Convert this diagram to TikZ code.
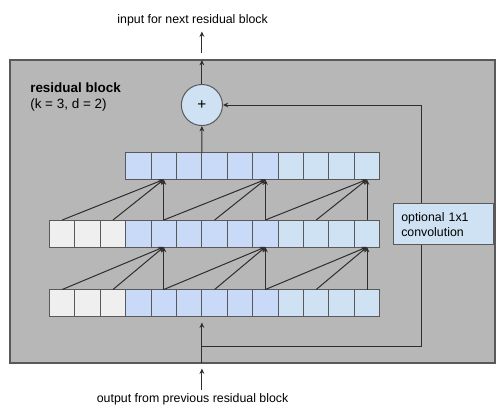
\documentclass[tikz,border=0pt]{standalone}
\usepackage{fontspec}
\setmainfont{Liberation Sans}
\usetikzlibrary{arrows.meta}
\definecolor{bggray}{HTML}{B7B7B7}
\definecolor{edgegray}{HTML}{595959}
\definecolor{cellgray}{HTML}{EFEFEF}
\definecolor{cellblue}{HTML}{C9DAF8}
\definecolor{celllight}{HTML}{CFE2F3}
\definecolor{linecol}{HTML}{2E2E2E}
\begin{document}
\begin{tikzpicture}[x=0.75pt,y=-0.75pt,
  cellbox/.style={draw=edgegray, line width=0.75pt, minimum width=19.05pt, minimum height=20.25pt, inner sep=0pt, outer sep=0pt},
  conn/.style={draw=linecol, line width=0.75pt, -{Stealth[length=4pt,width=3.6pt]}},
  lbl/.style={font=\fontsize{9.26pt}{11.25pt}\selectfont, inner sep=0pt},
  ttl/.style={font=\fontsize{10.1pt}{12pt}\selectfont, inner sep=0pt},
]
\useasboundingbox (0,0) rectangle (496,405);
% outer block
\node[draw=edgegray, fill=bggray, line width=0.9pt, minimum width=363.75pt, minimum height=227.25pt,
      inner sep=0pt, outer sep=0pt, anchor=north west] (blk) at (10,60) {};
% labels
\node[ttl, anchor=base west] (ttlA) at (30,92) {\bfseries residual block};
\node[ttl, anchor=base west] (ttlB) at (30,108) {(k = 3, d = 2)};
% rows of cells
\foreach \i/\c in {1/cellgray,2/cellgray,3/cellgray,4/cellblue,5/cellblue,6/cellblue,7/cellblue,8/cellblue,9/cellblue,10/celllight,11/celllight,12/celllight,13/celllight}{
  \node[cellbox, fill=\c] (b\i) at ({49.5+(\i-0.5)*25.4},303) {};
  \node[cellbox, fill=\c] (m\i) at ({49.5+(\i-0.5)*25.4},233.5) {};
}
\foreach \i/\c in {4/cellblue,5/cellblue,6/cellblue,7/cellblue,8/cellblue,9/cellblue,10/celllight,11/celllight,12/celllight,13/celllight}{
  \node[cellbox, fill=\c] (t\i) at ({49.5+(\i-0.5)*25.4},166) {};
}
% dilated connections
\foreach \r in {5,9,13}{
  \pgfmathtruncatemacro\sa{\r-4}
  \pgfmathtruncatemacro\sb{\r-2}
  \draw[conn] (b\sa.north) -- (m\r.south);
  \draw[conn] (b\sb.north) -- (m\r.south);
  \draw[conn] (b\r.north) -- (m\r.south);
  \draw[conn] (m\sa.north) -- (t\r.south);
  \draw[conn] (m\sb.north) -- (t\r.south);
  \draw[conn] (m\r.north) -- (t\r.south);
}
% sum node
\node[circle, draw=edgegray, fill=celllight, line width=0.75pt, minimum size=30.8pt, inner sep=0pt,
      font=\fontsize{11.5pt}{12pt}\selectfont] (plus) at (201.9,105) {+};
\draw[conn] (t6.north east) -- (plus.south);
\draw[conn] (plus.north) -- (plus.north |- blk.north);
% residual skip
\coordinate (skipA) at (201.9,346.7);
\coordinate (skipB) at (421.7,346.7);
\coordinate (inTip) at (201.9,322.5);
\draw[conn] (plus |- blk.south) -- (inTip);
\draw[conn] (skipA) -- (skipB) -- (skipB |- plus.east) -- (plus.east);
\node[draw=edgegray, fill=celllight, line width=0.75pt, minimum width=75pt, minimum height=30.5pt,
      text width=63pt, align=left, inner xsep=6pt, inner ysep=0pt, lbl] (conv) at (443.3,224.3)
      {optional 1x1\\convolution};
% outside arrows and texts
\coordinate (upA) at (201.9,53);
\coordinate (upB) at (201.9,31.5);
\draw[conn] (upA) -- (upB);
\node[lbl, anchor=base] (nexttxt) at (192.6,23.3) {input for next residual block};
\coordinate (dnA) at (201.9,390);
\coordinate (dnB) at (201.9,368.5);
\draw[conn] (dnA) -- (dnB);
\node[lbl, anchor=base] (prevtxt) at (192.6,402) {output from previous residual block};
\end{tikzpicture}
\end{document}
